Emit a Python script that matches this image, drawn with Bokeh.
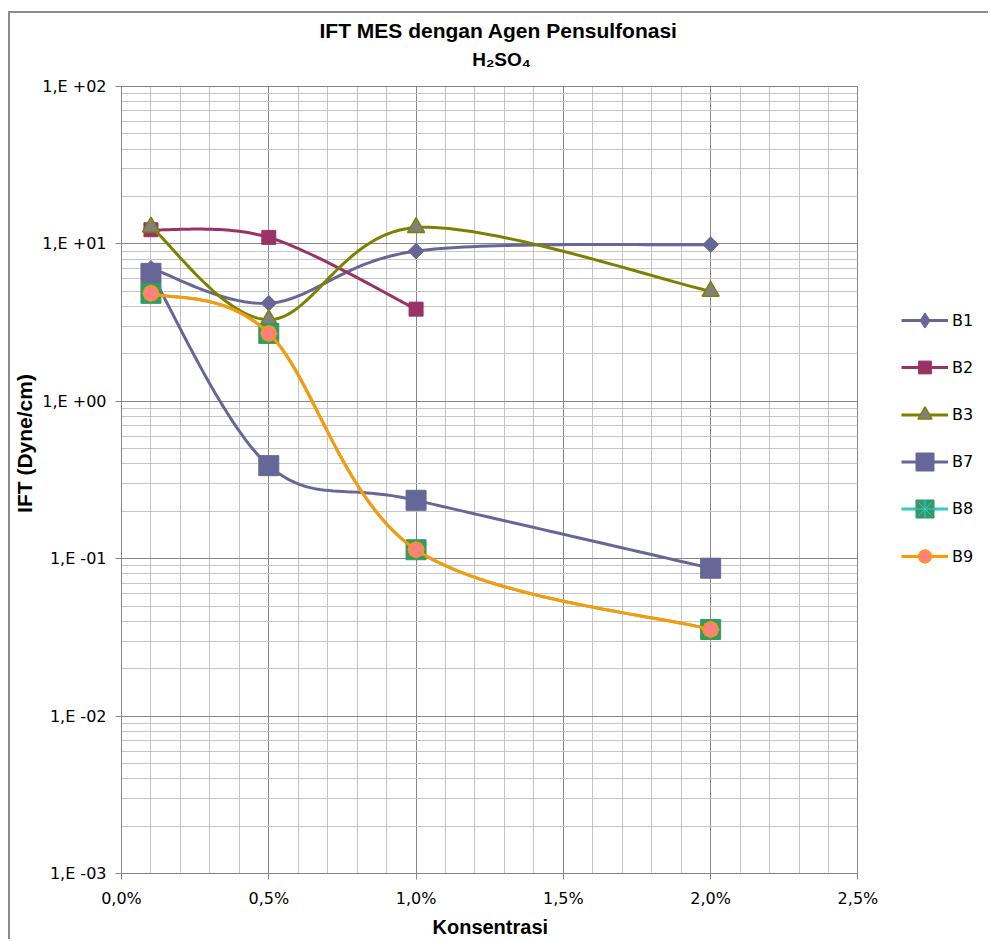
import numpy as np
from bokeh.plotting import figure
from bokeh.models import (Range1d, FixedTicker, CustomJSTickFormatter, Legend,
                          LegendItem, Label, Title)
from bokeh.embed import file_html
from bokeh.resources import INLINE

# ---------------- data ----------------
konsentrasi = [0.001, 0.005, 0.010, 0.020]
konsentrasi_b2 = [0.001, 0.005, 0.010]
b1 = [7.0, 4.2, 9.0, 9.9]
b2 = [12.3, 11.0, 3.85]
b3 = [12.8, 3.3, 12.7, 5.0]
b7 = [6.5, 0.39, 0.235, 0.087]
b8 = [4.85, 2.7, 0.114, 0.0355]
b9 = [4.85, 2.7, 0.114, 0.0355]

x_tick_values = [0.0, 0.005, 0.010, 0.015, 0.020, 0.025]
x_tick_labels = ["0,0%", "0,5%", "1,0%", "1,5%", "2,0%", "2,5%"]
y_tick_values = [1e-3, 1e-2, 1e-1, 1e0, 1e1, 1e2]
y_tick_labels = ["1,E -03", "1,E -02", "1,E -01", "1,E +00", "1,E +01", "1,E +02"]

title_text = "IFT  MES dengan Agen Pensulfonasi"
subtitle_text = "H₂SO₄"
x_label_text = "Konsentrasi"
y_label_text = "IFT (Dyne/cm)"

X_MIN, X_MAX = 0.0, 0.025
Y_MIN, Y_MAX = 1e-3, 1e2

FONT_BOLD = "Liberation Sans"
FONT_TICK = "DejaVu Sans"

# layout (page pixels)
PAGE_X0, PAGE_Y0 = 10, 13             # figure origin after CSS margin + border
PLOT_L, PLOT_T, PLOT_R, PLOT_B = 118, 86, 857, 873   # the gridded plot area
FRAME_R = 985                          # frame extended to hold legend
FRAME_T = PAGE_Y0                      # frame extended to hold titles

# ranges extended so that the gridded area lands on PLOT_*
x_end = X_MIN + (X_MAX - X_MIN) * (FRAME_R - PLOT_L) / (PLOT_R - PLOT_L)
dec_per_px = (np.log10(Y_MAX) - np.log10(Y_MIN)) / (PLOT_B - PLOT_T)
y_end = 10 ** (np.log10(Y_MAX) + (PLOT_T - FRAME_T) * dec_per_px)


def smooth(xs, ys, n=40):
    """Excel-like smoothed line (Catmull-Rom Bezier) in (x, log10 y) space."""
    px = np.asarray(xs, float)
    py = np.log10(np.asarray(ys, float))
    m = len(px)
    ox, oy = [px[0]], [py[0]]
    t = np.linspace(0, 1, n)[1:]
    for i in range(m - 1):
        i0 = max(i - 1, 0)
        i3 = min(i + 2, m - 1)
        c1x = px[i] + (px[i + 1] - px[i0]) / 6
        c1y = py[i] + (py[i + 1] - py[i0]) / 6
        c2x = px[i + 1] - (px[i3] - px[i]) / 6
        c2y = py[i + 1] - (py[i3] - py[i]) / 6
        a, b, c, d = (1 - t) ** 3, 3 * (1 - t) ** 2 * t, 3 * (1 - t) * t ** 2, t ** 3
        ox.extend(a * px[i] + b * c1x + c * c2x + d * px[i + 1])
        oy.extend(a * py[i] + b * c1y + c * c2y + d * py[i + 1])
    return list(ox), list(10 ** np.asarray(oy))


p = figure(width=990 - PAGE_X0, height=941 - PAGE_Y0,
           x_range=Range1d(X_MIN, x_end), y_range=Range1d(Y_MIN, y_end),
           y_axis_type="log", output_backend="svg", toolbar_location=None,
           title=None,
           min_border_left=PLOT_L - PAGE_X0, min_border_right=990 - FRAME_R,
           min_border_top=FRAME_T - PAGE_Y0, min_border_bottom=941 - PLOT_B,
           background_fill_color="white", border_fill_color="white",
           outline_line_color=None,
           styles={"margin-left": "8px", "margin-top": "11px",
                   "border-left": "2px solid #8c8c8c",
                   "border-top": "2px solid #8c8c8c"})

# axes
minor_x = [i / 1000 for i in range(1, 25) if i % 5 != 0]
minor_y = [k * 10.0 ** e for e in range(-3, 2) for k in range(2, 10)]

p.xaxis.ticker = FixedTicker(ticks=x_tick_values, minor_ticks=minor_x)
p.yaxis.ticker = FixedTicker(ticks=y_tick_values, minor_ticks=minor_y)

fmt_code = """
let best = 0, bd = Infinity;
for (let i = 0; i < vals.length; i++) {
  const d = Math.abs(Math.log(Math.abs(vals[i]) + 1e-9) - Math.log(Math.abs(tick) + 1e-9));
  if (d < bd) { bd = d; best = i; }
}
return labs[best];
"""
p.xaxis.formatter = CustomJSTickFormatter(
    args=dict(vals=x_tick_values, labs=x_tick_labels), code=fmt_code)
p.yaxis.formatter = CustomJSTickFormatter(
    args=dict(vals=y_tick_values, labs=y_tick_labels), code=fmt_code)

p.xaxis.bounds = (X_MIN, X_MAX)
p.yaxis.bounds = (Y_MIN, Y_MAX)

for ax in (p.xaxis, p.yaxis):
    ax.axis_line_color = "#868686"
    ax.major_tick_line_color = "#868686"
    ax.major_tick_out = 6
    ax.major_tick_in = 0
    ax.minor_tick_line_color = None
    ax.major_label_text_font = FONT_TICK
    ax.major_label_text_font_size = "16px"
    ax.major_label_text_color = "black"
    ax.axis_label_text_font = FONT_BOLD
    ax.axis_label_text_font_style = "bold"
    ax.axis_label_text_color = "black"

p.yaxis.axis_label = y_label_text
p.yaxis.axis_label_text_font_size = "21px"
p.xaxis.major_label_standoff = 9
p.yaxis.major_label_standoff = 9
p.yaxis.axis_label_standoff = 3

# x-axis title centred under the gridded area (not the extended frame)
p.add_layout(Title(text=x_label_text, align="left",
                   offset=490 - 61 - PLOT_L, standoff=6,
                   text_font=FONT_BOLD, text_font_size="20px",
                   text_font_style="bold", text_color="black"), "below")

xg, yg = p.xgrid[0], p.ygrid[0]
for g in (xg, yg):
    g.grid_line_color = "#868686"
    g.grid_line_width = 1
    g.minor_grid_line_color = "#c4c4c4"
    g.minor_grid_line_width = 1
xg.bounds = (X_MIN, X_MAX)
yg.bounds = (Y_MIN, Y_MAX)
if "cross_bounds" in xg.properties():
    xg.cross_bounds = (Y_MIN, Y_MAX)
    yg.cross_bounds = (X_MIN, X_MAX)

# titles (inside the extended frame, above the gridded area)
TITLE_CX = 498
p.add_layout(Label(x=TITLE_CX - PLOT_L, y=PLOT_B - 30, x_units="screen",
                   y_units="screen", text=title_text, text_align="center",
                   text_baseline="middle", text_font=FONT_BOLD,
                   text_font_size="21px", text_font_style="bold",
                   text_color="black"))
p.add_layout(Label(x=TITLE_CX - PLOT_L, y=PLOT_B - 59, x_units="screen",
                   y_units="screen", text=subtitle_text, text_align="center",
                   text_baseline="middle", text_font=FONT_BOLD,
                   text_font_size="19px", text_font_style="bold",
                   text_color="black"))

# ---------------- series ----------------
entries = []  # (label, renderers, legend marker size)

sx, sy = smooth(konsentrasi, b1)
l1 = p.line(sx, sy, line_color="#666699", line_width=3)
m1 = p.scatter(konsentrasi, b1, marker="square", angle=np.pi / 4, size=11,
               fill_color="#666699", line_color="#666699")
m1_leg = p.scatter(konsentrasi, b1, marker="diamond", size=15,
                   fill_color="#666699", line_color="#666699", visible=False)
entries.append(("B1", [l1, m1_leg], 15))

sx, sy = smooth(konsentrasi_b2, b2)
l2 = p.line(sx, sy, line_color="#993366", line_width=3)
m2 = p.scatter(konsentrasi_b2, b2, marker="square", size=14,
               fill_color="#993366", line_color="#993366")
entries.append(("B2", [l2, m2], 13))

sx, sy = smooth(konsentrasi, b3)
l3 = p.line(sx, sy, line_color="#808000", line_width=3)
m3 = p.scatter(konsentrasi, b3, marker="triangle", size=17,
               fill_color="#808080", line_color="#808000", line_width=1.5)
entries.append(("B3", [l3, m3], 14))

sx, sy = smooth(konsentrasi, b7)
l7 = p.line(sx, sy, line_color="#666699", line_width=3)
m7 = p.scatter(konsentrasi, b7, marker="square", size=20,
               fill_color="#666699", line_color="#666699")
entries.append(("B7", [l7, m7], 18))

sx, sy = smooth(konsentrasi, b8)
l8 = p.line(sx, sy, line_color="#33CCCC", line_width=3)
m8 = p.scatter(konsentrasi, b8, marker="square", size=20,
               fill_color="#339966", line_color="#339966")
m8b = p.scatter(konsentrasi, b8, marker="asterisk", size=18,
                line_color="#33CCCC", line_width=1)
entries.append(("B8", [l8, m8, m8b], 18))

sx, sy = smooth(konsentrasi, b9)
l9 = p.line(sx, sy, line_color="#FF9900", line_width=3)
m9 = p.scatter(konsentrasi, b9, marker="circle", size=15,
               fill_color="#FF8080", line_color="#FF9900", line_width=1.5)
entries.append(("B9", [l9, m9], 13))

# legend: one Legend per entry so each marker keeps its own size
LEG_X0 = 898          # page x where the legend line starts
LEG_Y_FIRST = 320     # page y of first entry centre
LEG_STEP = 47.2
for i, (label, rends, msize) in enumerate(entries):
    gh = int(round(msize / 0.4))
    cy = LEG_Y_FIRST + i * LEG_STEP
    loc = (LEG_X0 - PLOT_L, PLOT_B - (cy + gh / 2))
    lg = Legend(items=[LegendItem(label=label, renderers=rends)],
                location=loc, orientation="vertical",
                glyph_width=47, glyph_height=gh, label_height=20,
                label_standoff=4, spacing=0, padding=0, margin=0,
                border_line_color=None, background_fill_alpha=0,
                label_text_font=FONT_TICK, label_text_font_size="16px",
                label_text_color="black")
    p.add_layout(lg, "center")

open("out.html", "w").write(file_html(p, INLINE))
